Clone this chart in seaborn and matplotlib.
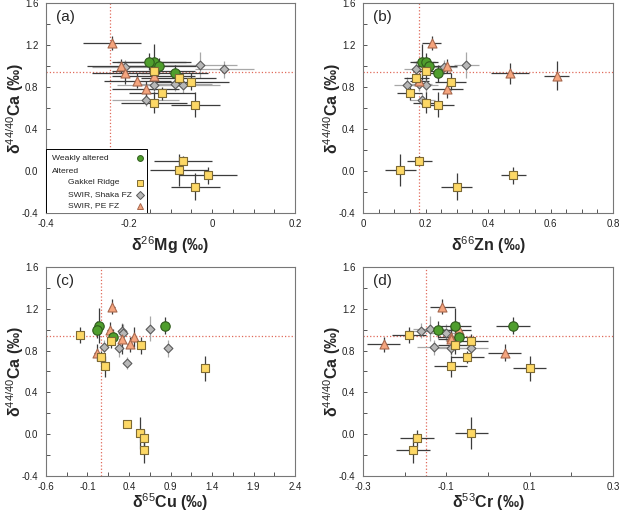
import numpy as np
import pandas as pd
import matplotlib
matplotlib.use("Agg")
import matplotlib.pyplot as plt
import seaborn as sns
from matplotlib.patches import Rectangle
from matplotlib.ticker import FixedLocator, FuncFormatter

sns.set_theme(style="ticks")
plt.rcParams["font.family"] = ["Liberation Sans", "DejaVu Sans"]
plt.rcParams["mathtext.fontset"] = "custom"
plt.rcParams["mathtext.rm"] = "Liberation Sans"
plt.rcParams["mathtext.bf"] = "Liberation Sans:bold"

# Weakly altered (green circles)
weak_ca = [1.04, 1.04, 1.00, 0.93]
weak_ca_err = [0.17, 0.08, 0.08, 0.08]
weak_mg = [-0.14, -0.152, -0.128, -0.09]
weak_mg_err = [0.09, 0.09, 0.09, 0.08]
weak_zn = [0.19, 0.20, 0.21, 0.24]
weak_zn_err = [0.04, 0.04, 0.04, 0.04]
weak_cu = [0.04, 0.83, 0.02, 0.21]
weak_cu_err = [0.03, 0.03, 0.03, 0.03]
weak_cr = [-0.08, 0.06, -0.12, -0.07]
weak_cr_err = [0.04, 0.04, 0.03, 0.03]

# Gakkel Ridge (yellow squares)
gak_ca = [0.95, 0.89, 0.85, 0.74, 0.65, 0.63, 0.10, 0.01, -0.04, -0.15]
gak_ca_err = [0.08, 0.07, 0.08, 0.06, 0.10, 0.12, 0.04, 0.15, 0.08, 0.13]
gak_mg = [-0.14, -0.08, -0.05, -0.12, -0.14, -0.04, -0.07, -0.08, -0.01, -0.04]
gak_mg_err = [0.10, 0.09, 0.09, 0.08, 0.08, 0.06, 0.07, 0.07, 0.07, 0.06]
gak_zn = [0.20, 0.17, 0.28, 0.15, 0.20, 0.24, 0.18, 0.12, 0.48, 0.30]
gak_zn_err = [0.04, 0.04, 0.05, 0.04, 0.04, 0.05, 0.04, 0.05, 0.04, 0.05]
gak_cu = [-0.19, 0.18, 0.54, 0.06, 0.11, 1.31, 0.38, 0.53, 0.58, 0.58]
gak_cu_err = [0.03, 0.03, 0.03, 0.03, 0.03, 0.03, 0.03, 0.03, 0.03, 0.03]
gak_cr = [-0.19, -0.04, -0.08, -0.05, -0.09, 0.10, np.nan, -0.04, -0.17, -0.18]
gak_cr_err = [0.04, 0.04, 0.04, 0.04, 0.04, 0.04, 0.0, 0.04, 0.04, 0.04]

# SWIR, Shaka FZ (gray diamonds)
sha_ca = [1.01, 0.99, 0.97, 0.83, 0.82, 0.82, 0.68]
sha_ca_err = [0.12, 0.07, 0.08, 0.07, 0.08, 0.08, 0.06]
sha_mg = [-0.03, -0.21, 0.03, -0.09, -0.14, -0.07, -0.16]
sha_mg_err = [0.09, 0.08, 0.07, 0.09, 0.09, 0.09, 0.08]
sha_zn = [0.33, 0.26, 0.17, 0.18, 0.14, 0.20, 0.19]
sha_zn_err = [0.04, 0.04, 0.04, 0.04, 0.04, 0.04, 0.04]
sha_cu = [0.65, 0.32, 0.33, 0.10, 0.28, 0.87, 0.38]
sha_cu_err = [0.03, 0.03, 0.03, 0.03, 0.03, 0.03, 0.03]
sha_cr = [-0.14, -0.16, -0.10, -0.13, -0.09, -0.04, np.nan]
sha_cr_err = [0.04, 0.04, 0.04, 0.04, 0.04, 0.04, 0.0]

# SWIR, PE FZ (orange triangles)
pe_ca = [1.22, 1.00, 0.93, 0.91, 0.86, 0.78]
pe_ca_err = [0.07, 0.07, 0.10, 0.14, 0.07, 0.08]
pe_mg = [-0.24, -0.22, -0.21, -0.14, -0.18, -0.16]
pe_mg_err = [0.07, 0.08, 0.08, 0.10, 0.08, 0.08]
pe_zn = [0.22, 0.27, 0.47, 0.62, 0.18, 0.27]
pe_zn_err = [0.03, 0.03, 0.06, 0.04, 0.03, 0.05]
pe_cu = [0.20, 0.17, 0.46, 0.31, 0.41, 0.01]
pe_cu_err = [0.03, 0.03, 0.03, 0.03, 0.03, 0.03]
pe_cr = [-0.11, -0.07, -0.09, -0.09, -0.25, 0.04]
pe_cr_err = [0.03, 0.03, 0.03, 0.03, 0.04, 0.04]

# reference lines
ca_ref = 0.94
mg_ref = -0.245
zn_ref = 0.18
cu_ref = 0.06
cr_ref = -0.15

# tick values
mg_ticks = [-0.4, -0.2, 0.0, 0.2]
zn_ticks = [0.0, 0.2, 0.4, 0.6, 0.8]
cu_ticks = [-0.6, -0.1, 0.4, 0.9, 1.4, 1.9, 2.4]
cr_ticks = [-0.3, -0.1, 0.1, 0.3]
ca_ticks = [-0.4, 0.0, 0.4, 0.8, 1.2, 1.6]


def frame(name, ca, ca_err, mg, mg_err, zn, zn_err, cu, cu_err, cr, cr_err):
    return pd.DataFrame({"group": name, "Ca": ca, "Ca_err": ca_err,
                         "Mg": mg, "Mg_err": mg_err, "Zn": zn, "Zn_err": zn_err,
                         "Cu": cu, "Cu_err": cu_err, "Cr": cr, "Cr_err": cr_err})


df = pd.concat([
    frame("weak", weak_ca, weak_ca_err, weak_mg, weak_mg_err, weak_zn, weak_zn_err,
          weak_cu, weak_cu_err, weak_cr, weak_cr_err),
    frame("gakkel", gak_ca, gak_ca_err, gak_mg, gak_mg_err, gak_zn, gak_zn_err,
          gak_cu, gak_cu_err, gak_cr, gak_cr_err),
    frame("shaka", sha_ca, sha_ca_err, sha_mg, sha_mg_err, sha_zn, sha_zn_err,
          sha_cu, sha_cu_err, sha_cr, sha_cr_err),
    frame("pe", pe_ca, pe_ca_err, pe_mg, pe_mg_err, pe_zn, pe_zn_err,
          pe_cu, pe_cu_err, pe_cr, pe_cr_err),
], ignore_index=True)

# group styles: marker, size, face, edge, errorbar colour, z
styles = {
    "shaka": ("D", 20, "#b8b8b8", "#5a5a5a", "#a8a8a8", 3),
    "pe": ("^", 42, "#f5a57e", "#a8684e", "#3c3c3c", 4),
    "weak": ("o", 46, "#4f9e2d", "#2f5a1c", "#3c3c3c", 5),
    "gakkel": ("s", 40, "#fdd865", "#7d6a35", "#3c3c3c", 6),
}

panels = [
    ("Mg", "(a)", r"δ$^{26}$Mg (‰)", mg_ticks, 4, mg_ref, [0.0743, 0.588, 0.4023, 0.406], -0.10),
    ("Zn", "(b)", r"δ$^{66}$Zn (‰)", zn_ticks, 4, zn_ref, [0.5864, 0.588, 0.4040, 0.406], -0.10),
    ("Cu", "(c)", r"δ$^{65}$Cu (‰)", cu_ticks, 2, cu_ref, [0.0743, 0.0793, 0.4023, 0.4043], -0.075),
    ("Cr", "(d)", r"δ$^{53}$Cr (‰)", cr_ticks, 2, cr_ref, [0.5864, 0.0793, 0.4040, 0.4043], -0.075),
]


def fmt_x(v, p):
    if abs(v) < 1e-9:
        return "0"
    return "%g" % round(v, 3)


fig = plt.figure(figsize=(6.19, 5.17), dpi=100)

for iso, tag, xlabel, ticks, nsub, xref, pos, xlab_y in panels:
    ax = fig.add_axes(pos)
    for grp, (mk, s, fc, ec, erc, z) in styles.items():
        sub = df[df["group"] == grp].dropna(subset=[iso])
        ax.errorbar(sub[iso], sub["Ca"], xerr=sub[iso + "_err"], yerr=sub["Ca_err"],
                    fmt="none", ecolor=erc, elinewidth=0.9, capsize=0, zorder=1)
    for grp, (mk, s, fc, ec, erc, z) in styles.items():
        sub = df[df["group"] == grp].dropna(subset=[iso])
        sns.scatterplot(data=sub, x=iso, y="Ca", marker=mk, s=s, color=fc,
                        edgecolor=ec, linewidth=0.8, zorder=z, legend=False, ax=ax)
    ax.axhline(ca_ref, color="#e06a5a", ls=":", lw=0.9, zorder=0.5)
    ax.axvline(xref, color="#e06a5a", ls=":", lw=0.9, zorder=0.5)

    ax.set_xlim(ticks[0], ticks[-1])
    ax.set_ylim(ca_ticks[0], ca_ticks[-1])
    step = (ticks[1] - ticks[0]) / nsub
    minor_x = np.arange(ticks[0], ticks[-1] + step / 2, step)
    ax.xaxis.set_major_locator(FixedLocator(ticks))
    ax.xaxis.set_minor_locator(FixedLocator(minor_x))
    ax.yaxis.set_major_locator(FixedLocator(ca_ticks))
    ax.yaxis.set_minor_locator(FixedLocator(np.arange(-0.4, 1.61, 0.2)))
    ax.tick_params(which="both", direction="in", length=3, width=0.7,
                   color="#555555", labelsize=7, labelcolor="#222222")
    ax.tick_params(axis="y", pad=5.5)
    ax.tick_params(axis="x", pad=4.5)
    ax.xaxis.set_major_formatter(FuncFormatter(fmt_x))
    ax.yaxis.set_major_formatter(FuncFormatter(lambda v, p: "%.1f" % v))
    for sp in ax.spines.values():
        sp.set_color("#777777")
        sp.set_linewidth(0.8)

    ax.set_xlabel(xlabel, fontsize=11.5, fontweight="bold")
    ax.xaxis.set_label_coords(0.5, xlab_y)
    ax.xaxis.label.set_va("top")
    ax.set_ylabel(r"δ$^{44/40}$Ca (‰)", fontsize=11.5, fontweight="bold")
    ax.yaxis.set_label_coords(-0.08, 0.5)
    ax.text(0.04, 0.965, tag, transform=ax.transAxes, fontsize=11, va="top", ha="left")

    if tag == "(a)":
        ax.add_patch(Rectangle((0, 0), 0.405, 0.305, transform=ax.transAxes,
                               facecolor="white", edgecolor="black", lw=0.7, zorder=10))
        rows = [
            ("Weakly altered", 0.023, "weak", 0.262),
            ("Altered", 0.023, None, 0.197),
            ("Gakkel Ridge", 0.09, "gakkel", 0.145),
            ("SWIR, Shaka FZ", 0.09, "shaka", 0.088),
            ("SWIR, PE FZ", 0.09, "pe", 0.035),
        ]
        for label, tx, grp, ty in rows:
            ax.text(tx, ty, label, transform=ax.transAxes, fontsize=6.1,
                    va="center", ha="left", color="#222222", zorder=11)
            if grp is not None:
                mk, s, fc, ec, erc, z = styles[grp]
                ms = 4.2 if mk != "D" else 3.6
                ax.plot([0.377], [ty], transform=ax.transAxes, marker=mk, ls="",
                        ms=ms, mfc=fc, mec=ec, mew=0.7, zorder=12)

fig.savefig("out.png", dpi=100)
